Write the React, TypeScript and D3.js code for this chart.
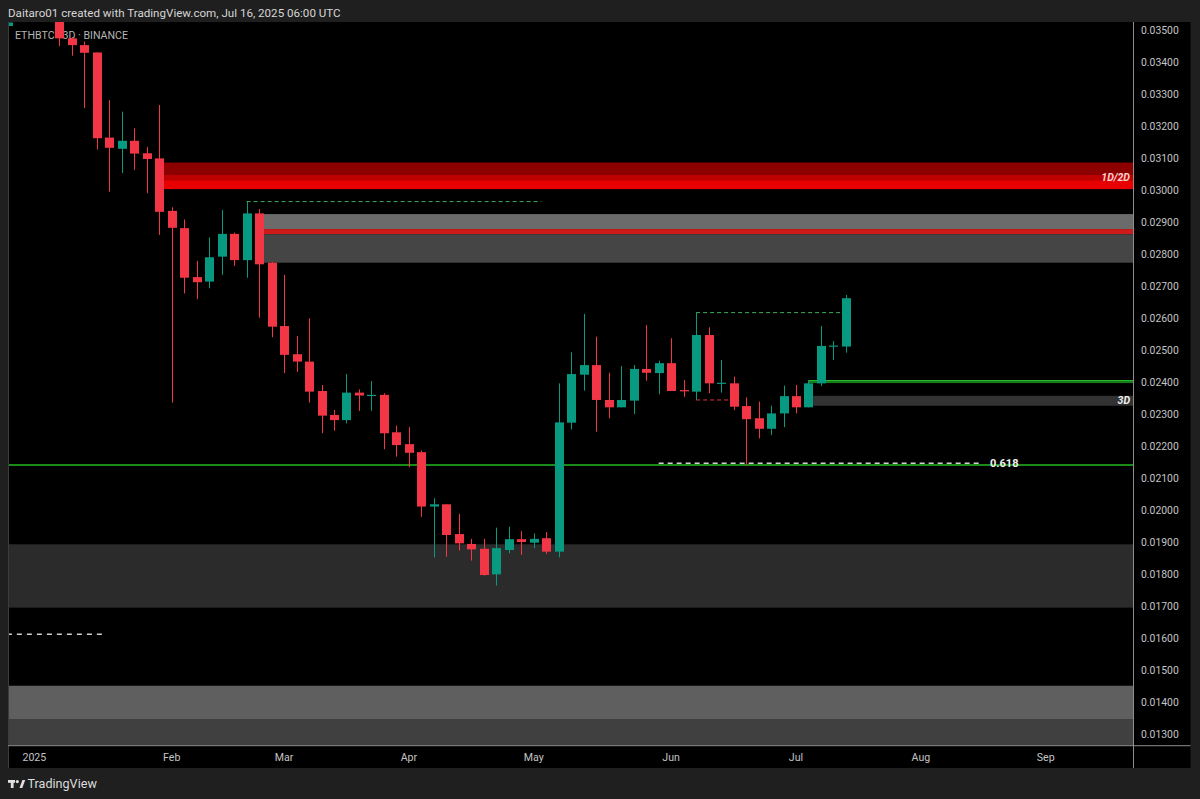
import React from "react";
import * as d3 from "d3";

const W = 1200;
const H = 799;

// ---- OHLC data (ETHBTC, 3D bars, first bar starts 2025-01-07) ----
const opens = [
  0.0354, 0.03476, 0.03455, 0.03432, 0.03166, 0.03131, 0.03156, 0.03117, 0.03101, 0.02937,
  0.02883, 0.0273, 0.02716, 0.02794, 0.02865, 0.02783, 0.02929, 0.02775, 0.02577, 0.02489,
  0.02466, 0.02374, 0.02299, 0.02283, 0.02369, 0.02361, 0.02362, 0.02245, 0.02208, 0.02183,
  0.02013, 0.0202, 0.01927, 0.01896, 0.01881, 0.01801, 0.01877, 0.01911, 0.019, 0.01914,
  0.01872, 0.02275, 0.02425, 0.02455, 0.02346, 0.02323, 0.02344, 0.02443, 0.0243, 0.02461,
  0.02377, 0.02372, 0.02549, 0.02398, 0.02398, 0.02327, 0.02289, 0.02256, 0.02304, 0.02358,
  0.02323, 0.02398, 0.02514, 0.02513,
];
const highs = [
  0.0358, 0.0348, 0.03466, 0.03432, 0.03283, 0.03247, 0.03195, 0.03136, 0.03268, 0.02948,
  0.0291, 0.02781, 0.02854, 0.0294, 0.02869, 0.02966, 0.02943, 0.02777, 0.02737, 0.02546,
  0.02601, 0.02393, 0.02315, 0.02427, 0.02379, 0.02405, 0.02367, 0.02266, 0.02261, 0.02188,
  0.02039, 0.0202, 0.0199, 0.01912, 0.01912, 0.01947, 0.0195, 0.01936, 0.01929, 0.01933,
  0.02398, 0.02495, 0.02615, 0.02544, 0.02431, 0.02452, 0.02455, 0.0258, 0.02469, 0.02539,
  0.02408, 0.02619, 0.02573, 0.02471, 0.02419, 0.02354, 0.02341, 0.02328, 0.02391, 0.02393,
  0.02408, 0.02577, 0.0253, 0.02674,
];
const lows = [
  0.03452, 0.03422, 0.03258, 0.03129, 0.02997, 0.03055, 0.03065, 0.02992, 0.02862, 0.02338,
  0.02679, 0.02661, 0.02695, 0.02737, 0.02765, 0.02728, 0.02603, 0.02542, 0.0243, 0.02434,
  0.02338, 0.02242, 0.0225, 0.02273, 0.02312, 0.02312, 0.02192, 0.02169, 0.02136, 0.01981,
  0.01854, 0.01856, 0.01875, 0.01844, 0.01797, 0.01766, 0.01867, 0.01862, 0.01883, 0.01865,
  0.01854, 0.02254, 0.02375, 0.02247, 0.02289, 0.02323, 0.02302, 0.02406, 0.02364, 0.02374,
  0.02356, 0.02346, 0.02367, 0.02369, 0.02315, 0.02143, 0.02226, 0.02236, 0.02261, 0.02304,
  0.02323, 0.0239, 0.02471, 0.02494,
];
const closes = [
  0.03476, 0.03455, 0.03431, 0.03164, 0.03134, 0.03156, 0.03116, 0.03099, 0.02934, 0.02884,
  0.02728, 0.02714, 0.02792, 0.02865, 0.02783, 0.02929, 0.0277, 0.02575, 0.02487, 0.02466,
  0.02372, 0.02297, 0.02283, 0.02369, 0.0236, 0.02362, 0.02242, 0.02205, 0.02181, 0.02013,
  0.0202, 0.01924, 0.01898, 0.01879, 0.01799, 0.01883, 0.01911, 0.01902, 0.01912, 0.01872,
  0.02276, 0.02427, 0.02455, 0.02346, 0.02323, 0.02346, 0.02443, 0.02431, 0.02461, 0.02374,
  0.02373, 0.02549, 0.02398, 0.024, 0.02325, 0.02286, 0.02256, 0.02304, 0.02358, 0.02323,
  0.02398, 0.02515, 0.02516, 0.02664,
];
const seriesStart = new Date(Date.UTC(2025, 0, 1)); // bar -2 starts here, bars are 3 days

// ---- axis tick labels ----
const priceTicks = [
  0.013, 0.014, 0.015, 0.016, 0.017, 0.018, 0.019, 0.02, 0.021, 0.022, 0.023, 0.024,
  0.025, 0.026, 0.027, 0.028, 0.029, 0.03, 0.031, 0.032, 0.033, 0.034, 0.035,
];
const monthLabels = ["2025", "Feb", "Mar", "Apr", "May", "Jun", "Jul", "Aug", "Sep"];
const monthStarts = [
  "2025-01-01", "2025-02-01", "2025-03-01", "2025-04-01", "2025-05-01",
  "2025-06-01", "2025-07-01", "2025-08-01", "2025-09-01",
];

// ---- annotation levels (prices) and anchors (bar indices) ----
const redZoneBands = [0.03088, 0.03049, 0.03033, 0.03005];
const redZoneStartBar = 8;
const resistZoneBands = [0.02927, 0.0288, 0.02864, 0.02775];
const resistZoneStartBar = 16;
const zone3D = [0.02359, 0.02328];
const zone3DStartBar = 60;
const greenLevel = 0.02405;
const greenLevelStartBar = 60;
const fibLevel = 0.02148;
const fibSpan = [48, 73.9];
const fibLabel = "0.618";
const supportLine = 0.02143;
const demandZone = [0.01895, 0.01697];
const lowerZoneBands = [0.01453, 0.01349, 0.0126];
const oldLowLevel = 0.01614;
const oldLowSpan = [-4.2, 3.66];
const highDash1 = { bar: 15, end: 38.6 };
const highDash2 = { bar: 51, end: 62.66 };
const lowDash2 = { bar: 51, end: 53.66 };

// ---- layout ----
const plot = { left: 8, right: 1133, top: 22, bottom: 745.5 };
const axisRight = 1190.5;
const axisBottom = 768;

const up = "#089981";
const down = "#f23645";
const font = "Roboto, 'Noto Sans', sans-serif";

export default function App() {
  const x = d3.scaleLinear().domain([-4.11, 85.99]).range([plot.left, plot.right]);
  const y = d3.scaleLinear().domain([0.012656, 0.035272]).range([745.7, 22]);
  const bw = 9;
  const fmt = d3.format(".5f");

  const barOfDate = (s: string) => {
    const d = new Date(s + "T00:00:00Z");
    const days = d3.utcDay.count(seriesStart, d);
    return Math.ceil(days / 3) - 2;
  };

  const candles = opens.map((o, i) => ({ i, o, h: highs[i], l: lows[i], c: closes[i] }));
  const R = plot.right + 5;

  const band = (top: number, bot: number, x0: number, fill: string, key: string) => (
    <rect key={key} x={x0} y={y(top)} width={R - x0} height={y(bot) - y(top)} fill={fill} />
  );

  const redX = x(redZoneStartBar) + bw / 2;
  const resX = x(resistZoneStartBar) + bw / 2;
  const z3X = x(zone3DStartBar) + bw / 2;

  return (
    <div style={{ position: "fixed", left: 0, top: 0, width: W, height: H }}>
      <svg width={W} height={H} viewBox={`0 0 ${W} ${H}`} style={{ display: "block" }}>
        <defs>
          <clipPath id="plotClip">
            <rect x={plot.left} y={plot.top} width={plot.right - plot.left} height={plot.bottom - plot.top} />
          </clipPath>
        </defs>
        {/* frame */}
        <rect x={0} y={0} width={W} height={H} fill="#1f1f1f" />
        <rect x={plot.left} y={plot.top} width={axisRight - plot.left} height={axisBottom - plot.top} fill="#000" />
        <text x={8} y={16.7} fill="#d6d6d6" fontFamily={font} fontSize={11.6}>
          Daitaro01 created with TradingView.com, Jul 16, 2025 06:00 UTC
        </text>

        <g clipPath="url(#plotClip)">
          {/* zones */}
          {band(redZoneBands[0], redZoneBands[1], redX, "#8c0000", "r1")}
          {band(redZoneBands[1], redZoneBands[2], redX, "#bd0000", "r2")}
          {band(redZoneBands[2], redZoneBands[3], redX, "#e80000", "r3")}
          {band(resistZoneBands[0], resistZoneBands[1], resX, "#6b6b6b", "g1")}
          {band(resistZoneBands[1], resistZoneBands[2], resX, "#cf1a1a", "g2")}
          {band(resistZoneBands[2], resistZoneBands[3], resX, "#454545", "g3")}
          {band(zone3D[0], zone3D[1], z3X, "#323232", "z3")}
          {band(demandZone[0], demandZone[1], plot.left, "#2b2b2b", "dz")}
          {band(lowerZoneBands[0], lowerZoneBands[1], plot.left, "#5f5f5f", "lz1")}
          {band(lowerZoneBands[1], lowerZoneBands[2], plot.left, "#404040", "lz2")}

          {/* lines */}
          <line x1={plot.left} x2={R} y1={y(supportLine)} y2={y(supportLine)} stroke="#1a8a1a" strokeWidth={2} />
          <rect x={x(greenLevelStartBar)} y={y(greenLevel) - 1} width={R - x(greenLevelStartBar)} height={3} fill="#177a17" />
          <line x1={x(greenLevelStartBar)} x2={R} y1={y(greenLevel) - 0.5} y2={y(greenLevel) - 0.5} stroke="#2fbf2f" strokeWidth={1} />

          {/* title (under candles) */}
          <text x={15} y={39} fill="#b5b5b5" fontFamily={font} fontSize={10.6}>ETHBTC · 3D · BINANCE</text>

          {/* candles */}
          {candles.map((d) => {
            const cx = Math.round(x(d.i)) + 0.5;
            const col = d.c >= d.o ? up : down;
            const top = y(Math.max(d.o, d.c));
            const bot = y(Math.min(d.o, d.c));
            return (
              <g key={d.i}>
                <line x1={cx} x2={cx} y1={y(d.h)} y2={y(d.l)} stroke={col} strokeWidth={1} />
                <rect x={cx - bw / 2} y={top} width={bw} height={Math.max(1.2, bot - top)} fill={col} />
              </g>
            );
          })}

          {/* dashed marks */}
          <line x1={x(highDash1.bar)} x2={x(highDash1.end)} y1={y(highs[highDash1.bar])} y2={y(highs[highDash1.bar])}
            stroke="#3fae5c" strokeWidth={1} strokeDasharray="4,3" />
          <line x1={x(highDash2.bar)} x2={x(highDash2.end)} y1={y(highs[highDash2.bar])} y2={y(highs[highDash2.bar])}
            stroke="#3fae5c" strokeWidth={1} strokeDasharray="4,3" />
          <line x1={x(lowDash2.bar)} x2={x(lowDash2.end)} y1={y(lows[lowDash2.bar])} y2={y(lows[lowDash2.bar])}
            stroke="#e0303c" strokeWidth={1} strokeDasharray="4,3" />
          <line x1={x(fibSpan[0])} x2={x(fibSpan[1])} y1={y(fibLevel)} y2={y(fibLevel)}
            stroke="#d0d0d0" strokeWidth={1.5} strokeDasharray="5,4" />
          <line x1={x(oldLowSpan[0])} x2={x(oldLowSpan[1])} y1={y(oldLowLevel)} y2={y(oldLowLevel)}
            stroke="#d0d0d0" strokeWidth={1.5} strokeDasharray="5,5" />

          {/* labels */}
          <text x={1130} y={y((redZoneBands[1] + redZoneBands[2]) / 2)} dominantBaseline="central" textAnchor="end"
            fill="#ffd2d2" fontFamily={font} fontSize={10.5} fontStyle="italic" fontWeight="bold">1D/2D</text>
          <text x={1130} y={y((zone3D[0] + zone3D[1]) / 2)} dominantBaseline="central" textAnchor="end"
            fill="#f2f2f2" fontFamily={font} fontSize={10.5} fontStyle="italic" fontWeight="bold">3D</text>
          <text x={x(fibSpan[1]) + 8} y={y(fibLevel)} dominantBaseline="central"
            fill="#f2f2f2" fontFamily={font} fontSize={11} fontWeight="bold">{fibLabel}</text>
        </g>
        <rect x={9} y={22.5} width={4} height={3.5} fill={up} />

        {/* borders */}
        <line x1={plot.left + 0.5} x2={plot.left + 0.5} y1={plot.top} y2={axisBottom} stroke="#3c3c3c" />
        <line x1={plot.right + 0.5} x2={plot.right + 0.5} y1={plot.top} y2={axisBottom} stroke="#8e8e8e" />
        <line x1={plot.left} x2={axisRight} y1={plot.bottom + 0.2} y2={plot.bottom + 0.2} stroke="#8e8e8e" />

        {/* price axis */}
        {priceTicks.map((v) => (
          <text key={v} x={1141} y={y(v)} dominantBaseline="central" fill="#c4c4c4" fontFamily={font} fontSize={10.4}>
            {fmt(v)}
          </text>
        ))}
        {/* time axis */}
        {monthLabels.map((m, k) => (
          <text key={m} x={x(barOfDate(monthStarts[k]))} y={757} dominantBaseline="central" textAnchor="middle"
            fill="#c4c4c4" fontFamily={font} fontSize={10.6}>
            {m}
          </text>
        ))}

        {/* footer logo */}
        <g fill="#e0e0e0">
          <rect x={8} y={780} width={7} height={2.8} />
          <rect x={10.8} y={780} width={2.8} height={8} />
          <circle cx={17.3} cy={781.6} r={1.6} />
          <polygon points="19.5,788 22.4,780 25.2,780 22.3,788" />
        </g>
        <text x={27.5} y={788.3} fill="#dcdcdc" fontFamily={font} fontSize={12.6}>TradingView</text>
      </svg>
    </div>
  );
}
